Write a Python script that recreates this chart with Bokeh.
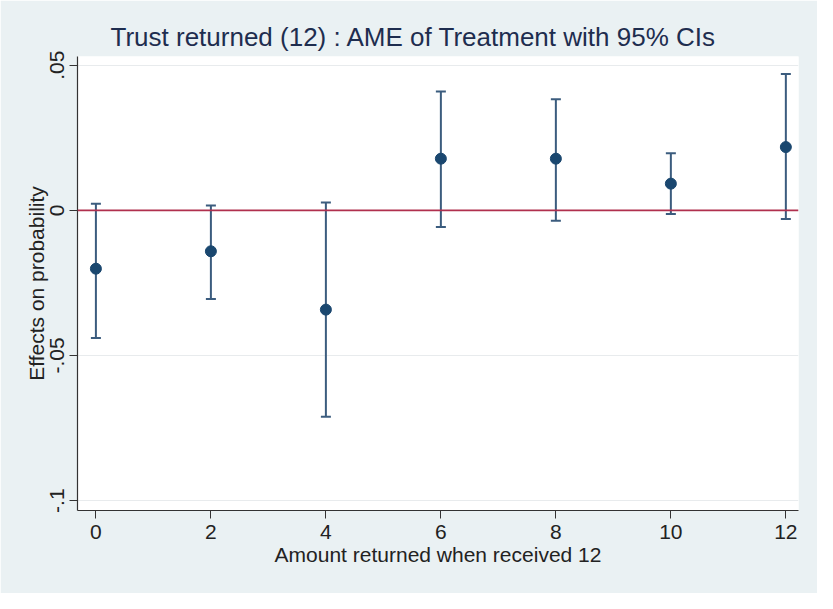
from bokeh.plotting import figure
from bokeh.models import Range1d, FixedTicker, Whisker, ColumnDataSource, Span, TeeHead
from bokeh.embed import file_html
from bokeh.resources import INLINE

# Data
amount = [0, 2, 4, 6, 8, 10, 12]
effect = [-0.0201, -0.0141, -0.0342, 0.0178, 0.0178, 0.0092, 0.0218]
ci_low = [-0.0440, -0.0305, -0.0711, -0.0057, -0.0036, -0.0013, -0.0030]
ci_high = [0.0023, 0.0017, 0.0027, 0.0409, 0.0383, 0.0197, 0.0470]
y_ticks = [-0.1, -0.05, 0, 0.05]
y_tick_labels = ["-.1", "-.05", "0", ".05"]
x_ticks = [0, 2, 4, 6, 8, 10, 12]

FONT = "Liberation Sans"
BG = "#EAF1F3"
NAVY = "#1A476F"
BAR = "#3B5C7E"

src = ColumnDataSource(dict(x=amount, y=effect, lo=ci_low, hi=ci_high))

p = figure(width=817, height=593, output_backend="svg", toolbar_location=None,
           x_range=Range1d(-0.32, 12.22), y_range=Range1d(-0.1034, 0.053),
           title="Trust returned (12) : AME of Treatment with 95% CIs")
p.min_border_left = 77
p.min_border_right = 19
p.min_border_top = 56
p.min_border_bottom = 83
p.background_fill_color = "white"
p.border_fill_color = BG
p.outline_line_color = None

p.title.text_font = FONT
p.title.text_font_size = "26px"
p.title.text_font_style = "normal"
p.title.text_color = "#1E2D4F"
p.title.align = "left"
p.title.offset = 33

for ax in (p.xaxis[0], p.yaxis[0]):
    ax.axis_line_color = "#333333"
    ax.axis_line_width = 1.2
    ax.major_tick_line_color = "#333333"
    ax.major_tick_out = 8
    ax.major_tick_in = 0
    ax.minor_tick_line_color = None
    ax.major_label_text_font = FONT
    ax.major_label_text_font_size = "21px"
    ax.major_label_text_color = "#222222"
    ax.axis_label_text_font = FONT
    ax.axis_label_text_font_size = "21px"
    ax.axis_label_text_font_style = "normal"
    ax.axis_label_text_color = "#222222"

p.xaxis.ticker = FixedTicker(ticks=x_ticks)
p.xaxis.axis_label = "Amount returned when received 12"
p.xaxis.major_label_standoff = 6
p.xaxis.axis_label_standoff = 1

p.yaxis.ticker = FixedTicker(ticks=y_ticks)
p.yaxis.major_label_overrides = {t: l for t, l in zip(y_ticks, y_tick_labels)}
p.yaxis.major_label_orientation = "vertical"
p.yaxis.axis_label = "Effects on probability"
p.yaxis.major_label_standoff = 5
p.yaxis.axis_label_standoff = 0

p.xgrid.grid_line_color = None
p.ygrid.grid_line_color = "#E8EBED"
p.ygrid.grid_line_width = 1

p.add_layout(Span(location=0, dimension="width", line_color="#B0304E", line_width=1.6))

w = Whisker(source=src, base="x", upper="hi", lower="lo", dimension="height",
            line_color=BAR, line_width=2,
            upper_head=TeeHead(size=10, line_color=BAR, line_width=2),
            lower_head=TeeHead(size=10, line_color=BAR, line_width=2))
p.add_layout(w)

p.scatter("x", "y", source=src, size=11, fill_color=NAVY, line_color=NAVY)

open("out.html", "w").write(file_html(p, INLINE))
